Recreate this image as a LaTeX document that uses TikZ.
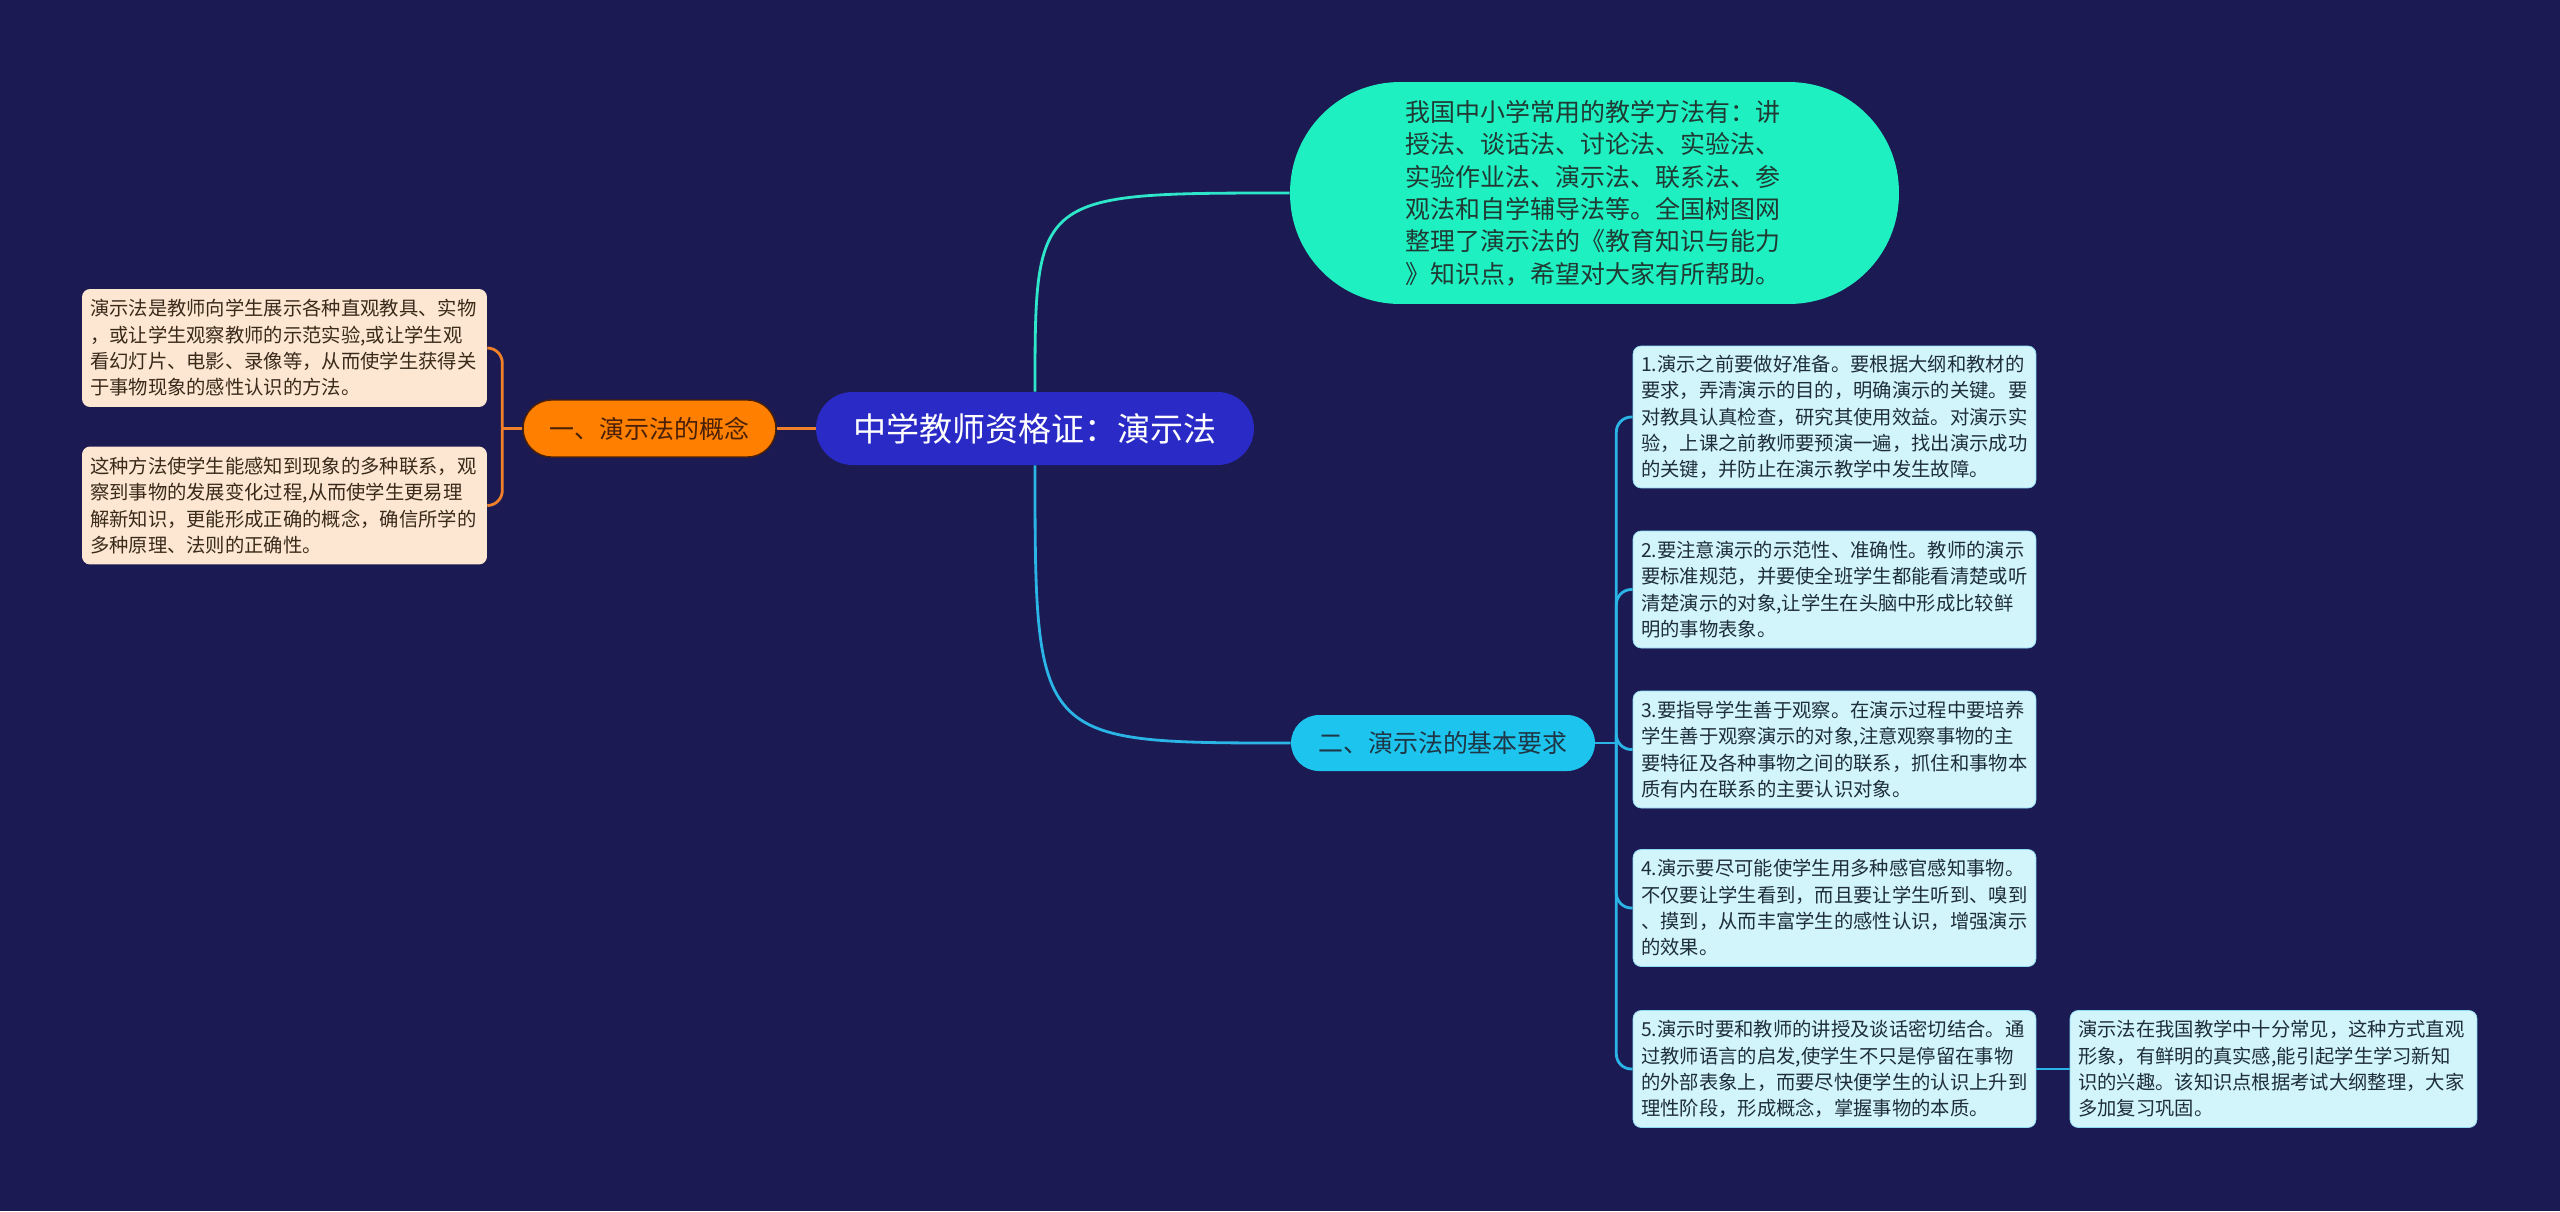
\documentclass[tikz,border=0pt]{standalone}
\usepackage{fontspec}
\setmainfont{Noto Sans CJK SC}
\usetikzlibrary{positioning,calc}
\definecolor{bg}{HTML}{1B1A52}
\definecolor{rootblue}{HTML}{2A2AC6}
\definecolor{aqua}{HTML}{1FF0C2}
\definecolor{aquatxt}{HTML}{1F3A33}
\definecolor{aqualine}{HTML}{2EE6C9}
\definecolor{orng}{HTML}{FF8000}
\definecolor{orngdark}{HTML}{4A2008}
\definecolor{orngline}{HTML}{F0802A}
\definecolor{peach}{HTML}{FDE7D2}
\definecolor{peachtxt}{HTML}{3A2A1A}
\definecolor{sky}{HTML}{1DC5EE}
\definecolor{skytxt}{HTML}{1E3646}
\definecolor{skyline}{HTML}{2AB5E6}
\definecolor{ice}{HTML}{D2F4FB}
\definecolor{icetxt}{HTML}{1E2E3A}

\begin{document}
\begin{tikzpicture}[x=0.02cm,y=-0.02cm,
  box/.style={rounded corners=0.16cm, inner xsep=0.16cm, inner ysep=0.1cm, align=left,
    font=\fontsize{11}{15}\selectfont},
  lbox/.style={box, fill=peach, text=peachtxt, text width=7.78cm, minimum height=2.36cm},
  rbox/.style={box, fill=ice, text=icetxt, draw=skyline!40!ice, text width=7.74cm, minimum height=2.34cm},
  olink/.style={orngline, line width=1.6pt},
  tlink/.style={aqualine, line width=1.6pt},
  clink/.style={skyline, line width=1.6pt}]
\useasboundingbox (0,0) rectangle (2560,1211);
\fill[bg] (0,0) rectangle (2560,1211);

% main topic and first level
\node[fill=rootblue, text=white, rounded corners=0.73cm, minimum width=8.76cm, minimum height=1.46cm,
  font=\fontsize{18.8}{22}\selectfont] (root) at (1035,428.5) {中学教师资格证：演示法};
\node[fill=orng, draw=orngdark, line width=0.8pt, text=orngdark, rounded corners=0.57cm,
  minimum width=5.06cm, minimum height=1.14cm, font=\fontsize{14.2}{17}\selectfont] (c1) at (649.5,428.5) {一、演示法的概念};
\node[fill=aqua, text=aquatxt, rounded corners=2.2cm, minimum width=12.18cm, minimum height=4.44cm,
  text width=7.55cm, align=left, font=\fontsize{14.2}{18.4}\selectfont] (t) at (1594.5,193)
  {我国中小学常用的教学方法有：讲\\授法、谈话法、讨论法、实验法、\\实验作业法、演示法、联系法、参\\观法和自学辅导法等。全国树图网\\整理了演示法的《教育知识与能力\\》知识点，希望对大家有所帮助。};
\node[fill=sky, text=skytxt, rounded corners=0.56cm, minimum width=6.08cm, minimum height=1.12cm,
  font=\fontsize{14.2}{17}\selectfont] (er) at (1443,743) {二、演示法的基本要求};

% left leaves
\node[lbox] (a1) at (284.5,348) {演示法是教师向学生展示各种直观教具、实物\\，或让学生观察教师的示范实验,或让学生观\\看幻灯片、电影、录像等，从而使学生获得关\\于事物现象的感性认识的方法。};
\node[lbox] (a2) at (284.5,505.5) {这种方法使学生能感知到现象的多种联系，观\\察到事物的发展变化过程,从而使学生更易理\\解新知识，更能形成正确的概念，确信所学的\\多种原理、法则的正确性。};

% right leaves
\node[rbox, minimum height=2.84cm] (b1) at (1834.5,417) {1.演示之前要做好准备。要根据大纲和教材的\\要求，弄清演示的目的，明确演示的关键。要\\对教具认真检查，研究其使用效益。对演示实\\验，上课之前教师要预演一遍，找出演示成功\\的关键，并防止在演示教学中发生故障。};
\node[rbox] (b2) at (1834.5,589.5) {2.要注意演示的示范性、准确性。教师的演示\\要标准规范，并要使全班学生都能看清楚或听\\清楚演示的对象,让学生在头脑中形成比较鲜\\明的事物表象。};
\node[rbox] (b3) at (1834.5,749.5) {3.要指导学生善于观察。在演示过程中要培养\\学生善于观察演示的对象,注意观察事物的主\\要特征及各种事物之间的联系，抓住和事物本\\质有内在联系的主要认识对象。};
\node[rbox] (b4) at (1834.5,908) {4.演示要尽可能使学生用多种感官感知事物。\\不仅要让学生看到，而且要让学生听到、嗅到\\、摸到，从而丰富学生的感性认识，增强演示\\的效果。};
\node[rbox] (b5) at (1834.5,1069) {5.演示时要和教师的讲授及谈话密切结合。通\\过教师语言的启发,使学生不只是停留在事物\\的外部表象上，而要尽快便学生的认识上升到\\理性阶段，形成概念，掌握事物的本质。};
\node[rbox, text width=7.82cm] (b6) at (2273.5,1069) {演示法在我国教学中十分常见，这种方式直观\\形象，有鲜明的真实感,能引起学生学习新知\\识的兴趣。该知识点根据考试大纲整理，大家\\多加复习巩固。};

% connectors
\draw[tlink] (root.north) .. controls (root.north |- t.west) .. (t.west);
\draw[clink] (root.south) .. controls (root.south |- er.west) .. (er.west);
\draw[olink] (c1.east) -- (root.west);
\coordinate (lsp) at ($(c1.west)+(-20,0)$);
\draw[olink] (c1.west) -- (lsp);
\draw[olink, rounded corners=0.3cm] (lsp) |- (a1.east);
\draw[olink, rounded corners=0.3cm] (lsp) |- (a2.east);
\coordinate (rsp) at ($(er.east)+(21,0)$);
\draw[clink] (er.east) -- (rsp);
\foreach \b in {b1,b2,b3,b4,b5}
  \draw[clink, rounded corners=0.3cm] (rsp) |- (\b.west);
\draw[clink] (b5.east) -- (b6.west);
\end{tikzpicture}
\end{document}
